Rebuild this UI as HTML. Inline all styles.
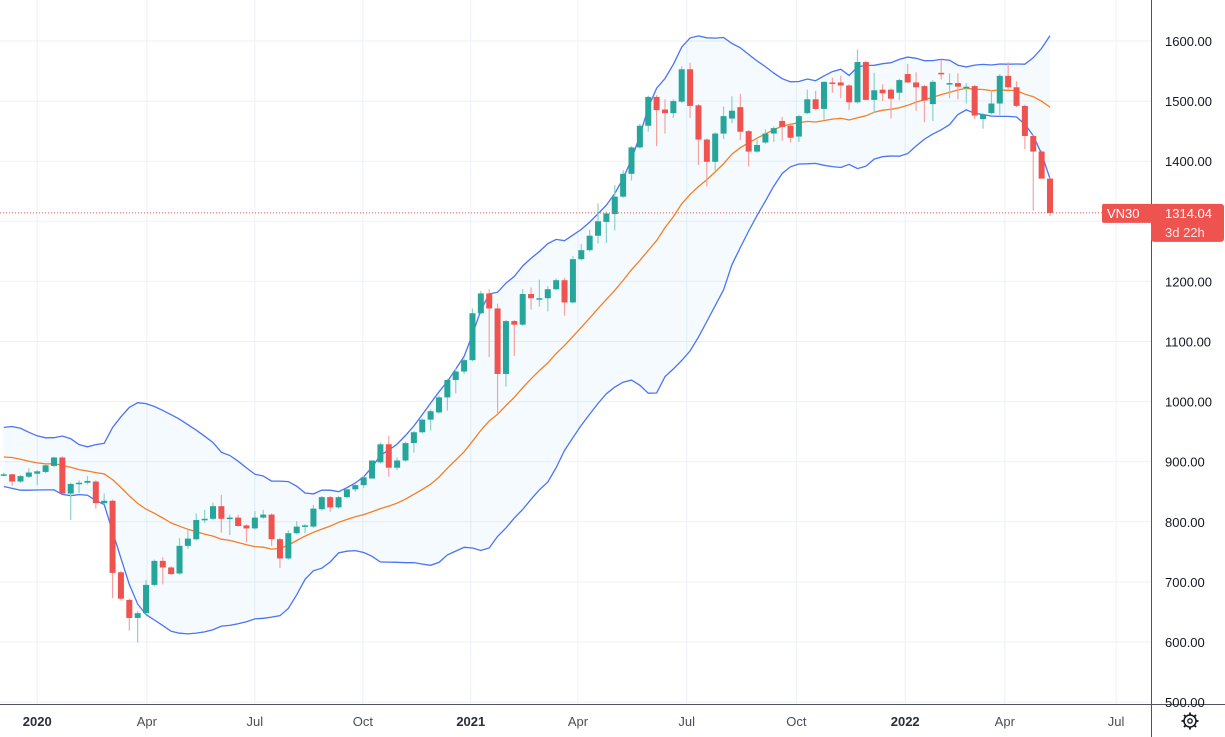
<!DOCTYPE html>
<html><head><meta charset="utf-8">
<style>
html,body{margin:0;padding:0;background:#fff;}
svg{display:block;font-family:"Liberation Sans",sans-serif;}
</style></head>
<body>
<svg id="chart" width="1225" height="737" viewBox="0 0 1225 737" xmlns="http://www.w3.org/2000/svg">
<rect x="0" y="0" width="1225" height="737" fill="#ffffff"/>
<g id="grid"></g>
<g id="bands"></g>
<g id="candles"></g>
<g id="axes"></g>
</svg>
<script>
const opens=[879,879,867,875,880,883,893,907,847,863,865,867,831,835,716,670,640,648,695,735,724,714,760,771,803,805,826,805,807,794,789,807,812,771,739,781,792,792,821,841,824,841,854,861,872,899,929,890,902,931,949,970,982,1007,1036,1050,1069,1147,1180,1155,1046,1134,1128,1179,1172,1172,1187,1202,1165,1237,1252,1276,1299,1312,1341,1379,1423,1459,1507,1486,1480,1499,1553,1493,1436,1399,1446,1471,1490,1450,1416,1431,1446,1467,1459,1441,1480,1503,1487,1531,1531,1526,1498,1565,1502,1519,1519,1514,1545,1531,1525,1495,1547,1530,1530,1524,1525,1470,1480,1496,1542,1523,1492,1442,1416,1371];
const highs=[882,880,878,889,886,896,908,909,865,869,876,869,847,837,718,672,652,703,737,741,726,773,787,814,820,832,845,812,812,796,818,820,814,773,786,801,796,828,843,843,843,856,863,876,902,932,943,907,933,951,972,987,1010,1038,1055,1072,1155,1184,1187,1163,1136,1136,1187,1190,1203,1192,1205,1206,1242,1262,1286,1330,1316,1360,1385,1425,1462,1509,1510,1503,1503,1558,1564,1495,1438,1448,1491,1508,1512,1452,1436,1453,1458,1474,1461,1477,1519,1517,1533,1539,1542,1528,1586,1567,1547,1528,1521,1537,1562,1548,1527,1535,1569,1546,1546,1530,1527,1480,1518,1545,1565,1533,1494,1444,1418,1373];
const lows=[876,860,865,873,861,881,891,847,803,848,862,822,829,673,669,619,599,646,693,696,711,712,755,769,798,803,782,778,792,766,787,805,760,723,737,779,781,790,819,817,822,839,850,856,872,897,875,886,900,915,947,952,980,985,1014,1046,1067,1145,1074,979,1025,1076,1126,1153,1158,1150,1185,1143,1163,1235,1250,1263,1264,1285,1339,1368,1421,1449,1425,1446,1472,1497,1472,1394,1358,1385,1437,1463,1435,1391,1414,1429,1432,1434,1431,1432,1478,1485,1469,1514,1505,1485,1496,1502,1480,1500,1471,1502,1530,1484,1465,1467,1536,1505,1503,1496,1470,1454,1478,1477,1520,1490,1420,1318,1371,1309];
const closes=[879,867,876,882,884,894,907,847,863,865,868,831,835,715,672,640,648,695,735,724,713,760,772,803,805,826,805,807,793,789,807,812,771,739,781,792,794,822,841,824,841,854,861,874,902,929,890,902,931,949,970,984,1007,1036,1050,1069,1147,1180,1155,1046,1134,1128,1179,1172,1172,1187,1202,1165,1237,1252,1276,1300,1313,1341,1379,1423,1459,1507,1485,1480,1500,1553,1492,1436,1399,1446,1475,1484,1449,1416,1427,1446,1455,1457,1439,1475,1503,1487,1532,1530,1526,1498,1565,1502,1518,1513,1504,1535,1531,1523,1501,1532,1545,1530,1524,1524,1476,1478,1496,1542,1523,1492,1442,1416,1371,1314];
const priorCloses=[885,935,948,940,925,905,893,930,945,915,884,878,905,935,920,898,884,874,880];
const yTicks=[500,600,700,800,900,1000,1100,1200,1300,1400,1500,1600];
const xTickLabels=["2020","Apr","Jul","Oct","2021","Apr","Jul","Oct","2022","Apr","Jul"];
const xTickWeeks=[4.0,17.1,30.0,42.9,55.8,68.6,81.6,94.7,107.7,119.6,132.9];
const xTickBold=[true,false,false,false,true,false,false,false,true,false,false];
const lastPrice=1314.04;

const NS="http://www.w3.org/2000/svg";
const N=closes.length;
function xOf(i){return 1050-(N-1-i)*8.37;}
function yOf(v){return 41+(1600-v)*0.601;}
function mk(tag,attrs,parent){const e=document.createElementNS(NS,tag);for(const k in attrs)e.setAttribute(k,attrs[k]);parent.appendChild(e);return e;}

const grid=document.getElementById('grid');
yTicks.forEach(v=>{
  const l=mk('line',{x1:0,x2:1151,y1:yOf(v),y2:yOf(v),stroke:'#edf1f7','stroke-width':1},grid);
  
  
});
xTickWeeks.forEach(w=>{
  const l=mk('line',{x1:xOf(w),x2:xOf(w),y1:0,y2:704,stroke:'#edf1f7','stroke-width':1},grid);
  
  
});

const all=priorCloses.concat(closes);
const off=priorCloses.length;
const up=[],mid=[],lo=[];
for(let i=0;i<N;i++){
  const s=all.slice(i+off-19,i+off+1);
  const m=s.reduce((a,b)=>a+b,0)/s.length;
  const sd=Math.sqrt(s.reduce((a,b)=>a+(b-m)*(b-m),0)/s.length);
  mid.push(m);up.push(m+2*sd);lo.push(m-2*sd);
}
const bands=document.getElementById('bands');
let ptsU=up.map((v,i)=>xOf(i).toFixed(1)+','+yOf(v).toFixed(1));
let ptsL=lo.map((v,i)=>xOf(i).toFixed(1)+','+yOf(v).toFixed(1));
const fill=mk('polygon',{points:ptsU.concat(ptsL.slice().reverse()).join(' '),fill:'#2196f3','fill-opacity':0.05},bands);


const lu=mk('polyline',{points:ptsU.join(' '),fill:'none',stroke:'#4b73f5','stroke-width':1.3},bands);


const ll=mk('polyline',{points:ptsL.join(' '),fill:'none',stroke:'#4b73f5','stroke-width':1.3},bands);


const lm=mk('polyline',{points:mid.map((v,i)=>xOf(i).toFixed(1)+','+yOf(v).toFixed(1)).join(' '),fill:'none',stroke:'#f57f25','stroke-width':1.3},bands);



const cg=document.getElementById('candles');
for(let i=0;i<N;i++){
  const up_=closes[i]>=opens[i];
  const col=up_?'#26a69a':'#ef5350';
  const wc=up_?'#8fd0c8':'#f5a3a1';
  const x=xOf(i);
  const w=mk('line',{x1:x,x2:x,y1:yOf(highs[i]),y2:yOf(lows[i]),stroke:wc,'stroke-width':1.2},cg);
  
  
  const t=Math.min(yOf(opens[i]),yOf(closes[i]));
  const h=Math.max(1.5,Math.abs(yOf(opens[i])-yOf(closes[i])));
  const b=mk('rect',{x:x-3,y:t,width:6,height:h,fill:col},cg);
  
  
}

const ax=document.getElementById('axes');
const pl=mk('line',{x1:0,x2:1151,y1:yOf(lastPrice),y2:yOf(lastPrice),stroke:'#ef5350','stroke-width':1,'stroke-dasharray':'1,2'},ax);


const bl=mk('line',{x1:0,x2:1225,y1:704.5,y2:704.5,stroke:'#50535e','stroke-width':1},ax);


const rl=mk('line',{x1:1151.5,x2:1151.5,y1:0,y2:737,stroke:'#50535e','stroke-width':1},ax);


yTicks.forEach(v=>{
  const t=mk('text',{x:1165,y:yOf(v)+5,'font-size':13,fill:'#131722'},ax);
  t.textContent=v.toFixed(2);
  
  
});
xTickLabels.forEach((s,k)=>{
  const t=mk('text',{x:xOf(xTickWeeks[k]),y:726,'font-size':13,'text-anchor':'middle',fill:xTickBold[k]?'#2a2e39':'#4a4e5a','font-weight':xTickBold[k]?'bold':'normal'},ax);
  t.textContent=s;
  
  
});
const yp=yOf(lastPrice);
const sb=mk('rect',{x:1102,y:yp-9,width:52,height:19,rx:2,fill:'#ef5350'},ax);


const st=mk('text',{x:1107,y:yp+5,'font-size':13,fill:'#fff'},ax);
st.textContent='VN30';


const pb=mk('rect',{x:1151,y:yp-9,width:73,height:38,rx:3,fill:'#ef5350'},ax);


const pt=mk('text',{x:1165,y:yp+5,'font-size':13,fill:'#fff'},ax);
pt.textContent=lastPrice.toFixed(2);


const ct=mk('text',{x:1165,y:yp+24,'font-size':13,fill:'#fde3e3'},ax);
ct.textContent='3d 22h';


const g=mk('g',{transform:'translate(1190,721)'},ax);


mk('circle',{cx:0,cy:0,r:6,fill:'none',stroke:'#131722','stroke-width':1.5},g);
mk('circle',{cx:0,cy:0,r:2.2,fill:'none',stroke:'#131722','stroke-width':1.3},g);
for(let a=0;a<8;a++){const r=a*Math.PI/4;mk('line',{x1:6*Math.cos(r),y1:6*Math.sin(r),x2:8.5*Math.cos(r),y2:8.5*Math.sin(r),stroke:'#131722','stroke-width':1.8},g);}
</script>
</body></html>
